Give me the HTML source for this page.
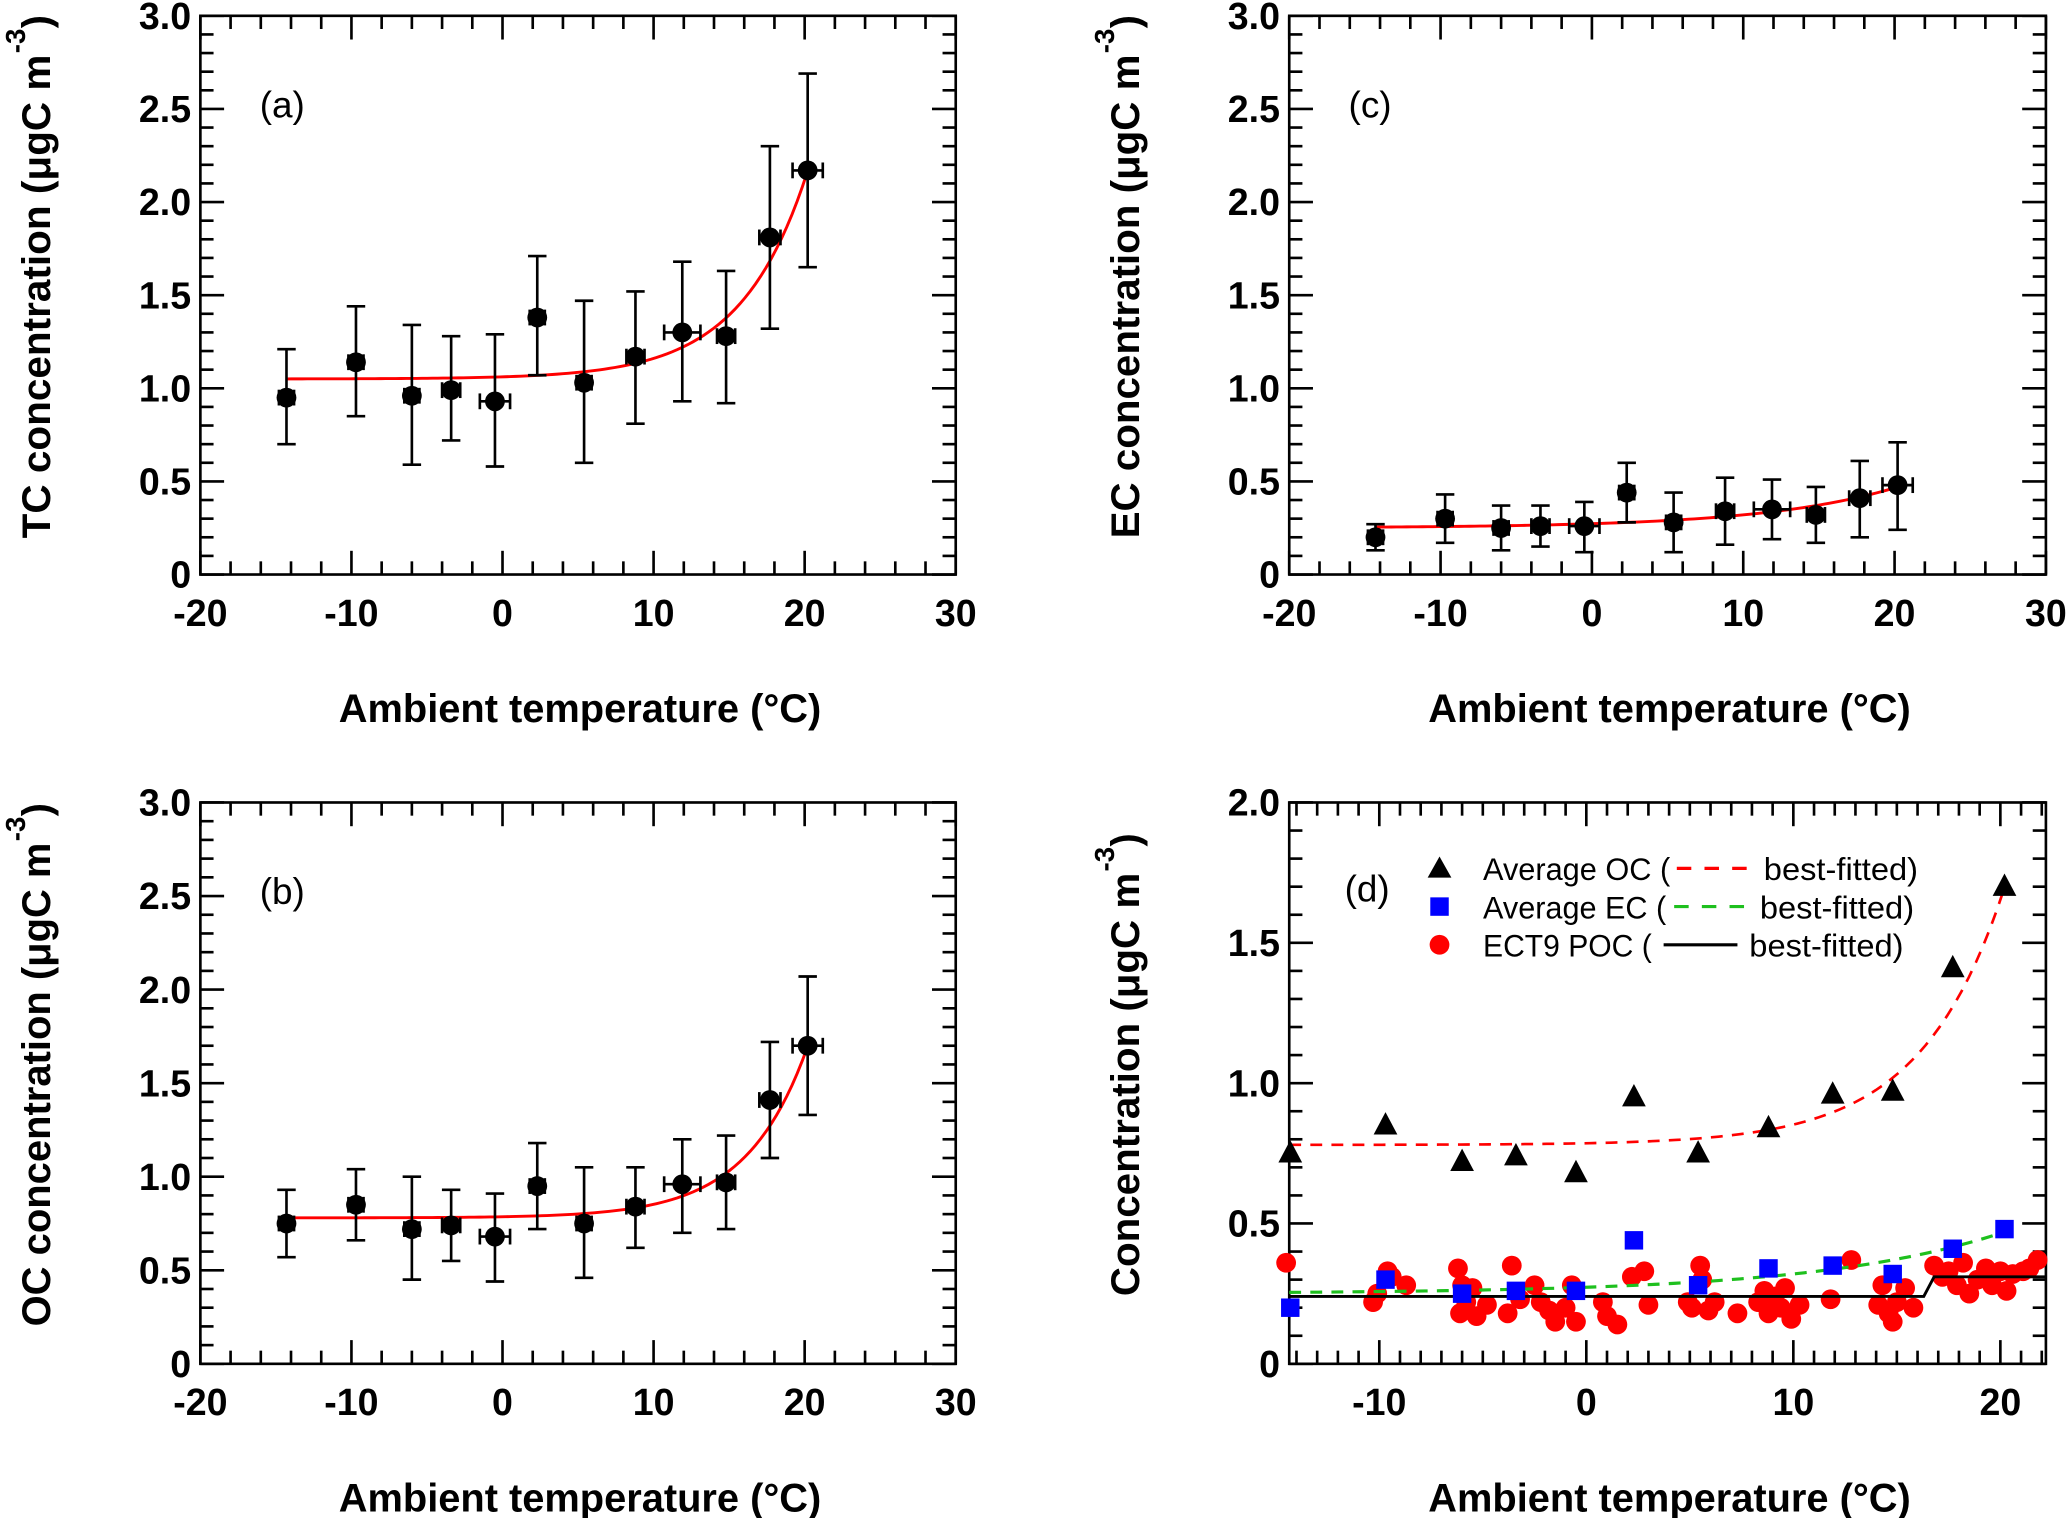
<!DOCTYPE html>
<html><head><meta charset="utf-8">
<style>
html,body{margin:0;padding:0;background:#fff;}
svg{display:block;}
text{font-family:"Liberation Sans",Arial,sans-serif;}
</style></head>
<body>
<svg id="fig" xmlns="http://www.w3.org/2000/svg" width="2067" height="1518" viewBox="0 0 1568 1152" preserveAspectRatio="none"></svg>
<script>
// ---- data ----
const temps = [-14.3, -9.7, -6.0, -3.4, -0.5, 2.3, 5.4, 8.8, 11.9, 14.8, 17.7, 20.2];
const tempErr = [0.5, 0.5, 0.5, 0.6, 1.0, 0.5, 0.5, 0.6, 1.2, 0.6, 0.7, 1.0];
const tcVals = [0.95, 1.14, 0.96, 0.99, 0.93, 1.38, 1.03, 1.17, 1.30, 1.28, 1.81, 2.17];
const tcUpper = [1.21, 1.44, 1.34, 1.28, 1.29, 1.71, 1.47, 1.52, 1.68, 1.63, 2.30, 2.69];
const tcLower = [0.70, 0.85, 0.59, 0.72, 0.58, 1.07, 0.60, 0.81, 0.93, 0.92, 1.32, 1.65];
const ocVals = [0.75, 0.85, 0.72, 0.74, 0.68, 0.95, 0.75, 0.84, 0.96, 0.97, 1.41, 1.70];
const ocUpper = [0.93, 1.04, 1.00, 0.93, 0.91, 1.18, 1.05, 1.05, 1.20, 1.22, 1.72, 2.07];
const ocLower = [0.57, 0.66, 0.45, 0.55, 0.44, 0.72, 0.46, 0.62, 0.70, 0.72, 1.10, 1.33];
const ecVals = [0.20, 0.30, 0.25, 0.26, 0.26, 0.44, 0.28, 0.34, 0.35, 0.32, 0.41, 0.48];
const ecUpper = [0.27, 0.43, 0.37, 0.37, 0.39, 0.60, 0.44, 0.52, 0.51, 0.47, 0.61, 0.71];
const ecLower = [0.13, 0.17, 0.13, 0.15, 0.12, 0.28, 0.12, 0.16, 0.19, 0.17, 0.20, 0.24];
const tcFit = [1.05, 0.0114, 0.227];
const ocFit = [0.78, 0.006, 0.249];
const ecFit = [0.25, 0.0229, 0.112];
const pocX = [-14.5,-10.3,-10.1,-9.6,-9.4,-8.7,-6.2,-6.1,-6.0,-5.8,-5.5,-5.3,-4.8,-3.6,-3.8,-3.2,-2.5,-2.2,-1.8,-1.5,-1.0,-0.7,-0.5,0.8,1.0,1.5,2.2,2.8,3.0,4.9,5.1,5.5,5.6,5.9,6.2,7.3,8.3,8.6,8.8,9.1,9.4,9.6,9.9,10.3,11.8,12.8,14.1,14.3,14.6,14.8,15.0,15.4,15.8,16.8,17.2,17.5,17.9,18.2,18.5,18.9,19.3,19.6,20.0,20.3,20.6,21.1,21.4,21.8];
const pocY = [0.36,0.22,0.25,0.33,0.31,0.28,0.34,0.18,0.28,0.22,0.27,0.17,0.21,0.35,0.18,0.23,0.28,0.22,0.19,0.15,0.20,0.28,0.15,0.22,0.17,0.14,0.31,0.33,0.21,0.22,0.20,0.35,0.30,0.19,0.22,0.18,0.22,0.26,0.18,0.24,0.20,0.27,0.16,0.21,0.23,0.37,0.21,0.28,0.18,0.15,0.22,0.27,0.20,0.35,0.31,0.33,0.28,0.36,0.25,0.30,0.34,0.28,0.33,0.26,0.32,0.33,0.34,0.37];
const pocStepX = [-14.4, 16.3, 16.8, 22.2];
const pocStepY = [0.24, 0.24, 0.31, 0.31];
const xTicksA = [-20, -10, 0, 10, 20, 30];
const yTicksA = [0, 0.5, 1.0, 1.5, 2.0, 2.5, 3.0];
const yTickLabelsA = ["0", "0.5", "1.0", "1.5", "2.0", "2.5", "3.0"];
const xTicksD = [-10, 0, 10, 20];
const yTicksD = [0, 0.5, 1.0, 1.5, 2.0];
const yTickLabelsD = ["0", "0.5", "1.0", "1.5", "2.0"];

const NS = "http://www.w3.org/2000/svg";
const svg = document.getElementById('fig');
function mk(tag, attrs, parent) {
  const e = document.createElementNS(NS, tag);
  for (const k in attrs) e.setAttribute(k, attrs[k]);
  (parent || svg).appendChild(e);
  return e;
}

function makePanel(o) {
  const g = mk('g', {});
  
  
  const sx = v => o.L + (v - o.x0) / (o.x1 - o.x0) * (o.R - o.L);
  const sy = v => o.B - (v - o.y0) / (o.y1 - o.y0) * (o.B - o.T);
  const fr = mk('rect', {x:o.L, y:o.T, width:o.R-o.L, height:o.B-o.T, fill:'none', stroke:'#000', 'stroke-width':2}, g);
  
  
  for (let v = Math.ceil(o.x0 / o.xMinor) * o.xMinor; v <= o.x1 + 1e-9; v += o.xMinor) {
    const isMajor = Math.abs(v / o.xMajor - Math.round(v / o.xMajor)) < 1e-6;
    const len = isMajor ? 18 : 10;
    const x = sx(v);
    mk('line', {x1:x, x2:x, y1:o.B, y2:o.B - len, stroke:'#000', 'stroke-width':2}, g);
    mk('line', {x1:x, x2:x, y1:o.T, y2:o.T + len, stroke:'#000', 'stroke-width':2}, g);
  }
  for (let v = o.y0; v <= o.y1 + 1e-9; v += o.yMinor) {
    const isMajor = Math.abs(v / o.yMajor - Math.round(v / o.yMajor)) < 1e-6;
    const len = isMajor ? 18 : 10;
    const y = sy(v);
    mk('line', {x1:o.L, x2:o.L + len, y1:y, y2:y, stroke:'#000', 'stroke-width':2}, g);
    mk('line', {x1:o.R, x2:o.R - len, y1:y, y2:y, stroke:'#000', 'stroke-width':2}, g);
  }
  o.xTicks.forEach(v => {
    const t = mk('text', {x:sx(v), y:o.B + 39, 'text-anchor':'middle', 'font-size':28.5, 'font-weight':'bold'}, g);
    t.textContent = String(v);
    
    
  });
  o.yTicks.forEach((v, i) => {
    const t = mk('text', {x:o.L - 7, y:sy(v) + 10, 'text-anchor':'end', 'font-size':28.5, 'font-weight':'bold'}, g);
    t.textContent = o.yTickLabels[i];
    
    
  });
  const xt = mk('text', {x:(o.L + o.R) / 2 + 1.5, y:o.B + 112, 'text-anchor':'middle', 'font-size':30, 'font-weight':'bold', textLength:366, lengthAdjust:'spacingAndGlyphs'}, g);
  xt.textContent = 'Ambient temperature (°C)';
  
  
  const main = o.ylabel + '  (μgC m';
  const Lm = main.length * 15.3;
  const yg = mk('g', {transform:`translate(${o.L - 114},${(o.T + o.B) / 2 + 1}) rotate(-90)`}, g);
  
  
  const t1 = mk('text', {x:0, y:0, 'text-anchor':'middle', 'font-size':30, 'font-weight':'bold', textLength:Lm, lengthAdjust:'spacingAndGlyphs'}, yg);
  t1.textContent = main;
  const t2 = mk('text', {x:Lm / 2 + 1, y:-19, 'font-size':21, 'font-weight':'bold'}, yg);
  t2.textContent = '-3';
  const t3 = mk('text', {x:Lm / 2 + 20, y:0, 'font-size':30, 'font-weight':'bold'}, yg);
  t3.textContent = ')';
  const pl = mk('text', {x:o.L + o.lblDx, y:o.T + o.lblDy, 'font-size':28}, g);
  pl.textContent = o.label;
  
  
  return {g, sx, sy};
}

function fitPath(p, sx, sy, fit, xa, xb, attrs) {
  let d = '';
  for (let i = 0; i <= 100; i++) {
    const x = xa + (xb - xa) * i / 100;
    const y = fit[0] + fit[1] * Math.exp(fit[2] * x);
    d += (i ? 'L' : 'M') + sx(x).toFixed(2) + ',' + sy(y).toFixed(2);
  }
  const a = Object.assign({d, fill:'none'}, attrs);
  return mk('path', a, p);
}

function errPanel(o, vals, up, lo, fit) {
  const P = makePanel(o);
  const {g, sx, sy} = P;
  const fp = fitPath(g, sx, sy, fit, temps[0], temps[temps.length - 1], {stroke:'#f00', 'stroke-width':2.2});
  
  
  temps.forEach((x, i) => {
    const eg = mk('g', {stroke:'#000', 'stroke-width':2}, g);
    
    
    const X = sx(x);
    mk('line', {x1:X, x2:X, y1:sy(up[i]), y2:sy(lo[i])}, eg);
    mk('line', {x1:X - 7, x2:X + 7, y1:sy(up[i]), y2:sy(up[i])}, eg);
    mk('line', {x1:X - 7, x2:X + 7, y1:sy(lo[i]), y2:sy(lo[i])}, eg);
    const xl = sx(x - tempErr[i]), xr = sx(x + tempErr[i]);
    mk('line', {x1:xl, x2:xr, y1:sy(vals[i]), y2:sy(vals[i])}, eg);
    mk('line', {x1:xl, x2:xl, y1:sy(vals[i]) - 6, y2:sy(vals[i]) + 6}, eg);
    mk('line', {x1:xr, x2:xr, y1:sy(vals[i]) - 6, y2:sy(vals[i]) + 6}, eg);
    const c = mk('circle', {cx:X, cy:sy(vals[i]), r:7.5, fill:'#000'}, g);
    
    
  });
}

const base = {x0:-20, x1:30, y0:0, y1:3, xMinor:2, xMajor:10, yMinor:0.1, yMajor:0.5, xTicks:xTicksA, yTicks:yTicksA, yTickLabels:yTickLabelsA, lblDx:45, lblDy:77};
errPanel(Object.assign({}, base, {name:'panel-a-tc', L:152, R:725, T:12, B:436, ylabel:'TC concentration', label:'(a)'}), tcVals, tcUpper, tcLower, tcFit);
errPanel(Object.assign({}, base, {name:'panel-c-ec', L:978, R:1552, T:12, B:436, ylabel:'EC concentration', label:'(c)'}), ecVals, ecUpper, ecLower, ecFit);
errPanel(Object.assign({}, base, {name:'panel-b-oc', L:152, R:725, T:609, B:1035, ylabel:'OC concentration', label:'(b)'}), ocVals, ocUpper, ocLower, ocFit);

(function(){
  const o = {name:'panel-d-combined', L:978, R:1552, T:609, B:1035, x0:-14.35, x1:22.2, y0:0, y1:2, xMinor:1, xMajor:10, yMinor:0.1, yMajor:0.5, xTicks:xTicksD, yTicks:yTicksD, yTickLabels:yTickLabelsD, ylabel:'Concentration', label:'(d)', lblDx:42, lblDy:75};
  const {g, sx, sy} = makePanel(o);
  pocX.forEach((x, i) => {
    const c = mk('circle', {cx:sx(x), cy:sy(pocY[i]), r:7.5, fill:'#f00'}, g);
    
    
  });
  let d = '';
  pocStepX.forEach((x, i) => { d += (i ? 'L' : 'M') + sx(x) + ',' + sy(pocStepY[i]); });
  const st = mk('path', {d, fill:'none', stroke:'#000', 'stroke-width':2.2}, g);
  
  
  const gf = fitPath(g, sx, sy, ecFit, -14.35, 20.2, {stroke:'#1ec01e', 'stroke-width':2.4, 'stroke-dasharray':'9,7'});
  
  
  temps.forEach((x, i) => {
    const s = mk('rect', {x:sx(x) - 7, y:sy(ecVals[i]) - 7, width:14, height:14, fill:'#00f'}, g);
    
    
  });
  const rf = fitPath(g, sx, sy, ocFit, -14.35, 20.2, {stroke:'#f00', 'stroke-width':2, 'stroke-dasharray':'9,7'});
  
  
  temps.forEach((x, i) => {
    const X = sx(x), Y = sy(ocVals[i]);
    const t = mk('polygon', {points:`${X},${Y - 10} ${X - 9},${Y + 7} ${X + 9},${Y + 7}`, fill:'#000'}, g);
    
    
  });
  const lg = mk('g', {}, g);
  
  
  const rows = [
    {y:659, label:'Average OC (', lw:142, d0:1272, d1:1330, dash:'11,10', col:'#f00', tx:1338, name:'legend-entry-oc'},
    {y:688, label:'Average EC (', lw:139, d0:1270, d1:1328, dash:'11,10', col:'#1ec01e', tx:1335, name:'legend-entry-ec'},
    {y:717, label:'ECT9 POC (', lw:128, d0:1262, d1:1318, dash:'none', col:'#000', tx:1327, name:'legend-entry-poc'}
  ];
  rows.forEach((r, i) => {
    const eg = mk('g', {}, lg);
    
    
    if (i === 0) mk('polygon', {points:'1092,650 1083,666 1101,666', fill:'#000'}, eg);
    if (i === 1) mk('rect', {x:1085, y:681, width:14, height:14, fill:'#00f'}, eg);
    if (i === 2) mk('circle', {cx:1092, cy:717, r:7.5, fill:'#f00'}, eg);
    const t = mk('text', {x:1125, y:r.y + 9, 'font-size':24, textLength:r.lw, lengthAdjust:'spacingAndGlyphs'}, eg);
    t.textContent = r.label;
    mk('line', {x1:r.d0, x2:r.d1, y1:r.y, y2:r.y, stroke:r.col, 'stroke-width':2.4, 'stroke-dasharray':r.dash}, eg);
    const t2 = mk('text', {x:r.tx, y:r.y + 9, 'font-size':24, textLength:117, lengthAdjust:'spacingAndGlyphs'}, eg);
    t2.textContent = 'best-fitted)';
  });
})();
</script>
</body></html>
